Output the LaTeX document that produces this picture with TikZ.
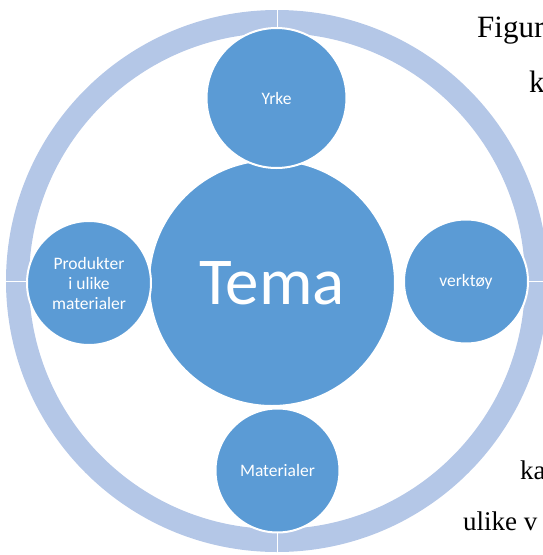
\documentclass[tikz,border=0pt]{standalone}
\usepackage{fontspec}
\setmainfont{Liberation Serif}
\newfontfamily\labelfont{Carlito}
\definecolor{themeblue}{HTML}{5B9BD5}
\definecolor{ringblue}{HTML}{B4C7E7}
\begin{document}
\begin{tikzpicture}[x=1pt,y=-1pt,
  topic/.style={circle,fill=themeblue,draw=white,line width=2pt,inner sep=0pt,
    text=white,font=\labelfont\fontsize{17.5}{20}\selectfont,align=center},
  pagetext/.style={anchor=base west,inner sep=0pt,font=\fontsize{27}{30}\selectfont},
  bigtext/.style={pagetext,font=\fontsize{31}{34}\selectfont}]
\useasboundingbox (0,0) rectangle (542,555);
% outer ring split into four quarters
\draw[ringblue,line width=23pt] (277,281) circle[radius=259.5];
\foreach \a in {0,90,180,270}
  \draw[white,line width=1pt] (277,281) ++(\a:246) -- ++(\a:28);
% central theme and the four surrounding topics
\node[topic,minimum size=246pt,font=\labelfont\fontsize{67}{70}\selectfont] (tema) at (272,283) {Tema};
\node[topic,minimum size=140pt] (yrke) at (276.5,98) {Yrke};
\node[topic,minimum size=124pt] (mat) at (277.5,470.5) {Materialer};
\node[topic,minimum size=124pt] (prod) at (89,283) {Produkter\\i ulike\\materialer};
\node[topic,minimum size=124pt] (verk) at (466,281.5) {verktøy};
% running text beside the figure
\node[bigtext] (t1) at (477,37) {Figur};
\node[bigtext] (t2) at (529,92) {k};
\node[pagetext] (t3) at (520,479) {ka};
\node[pagetext] (t4) at (463,530) {ulike v};
\end{tikzpicture}
\end{document}
